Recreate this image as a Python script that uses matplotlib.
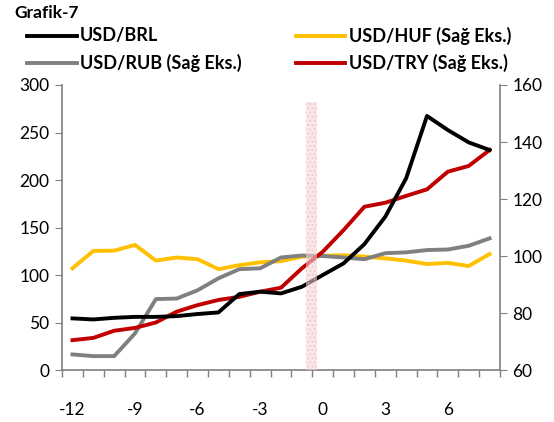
import matplotlib
matplotlib.use("Agg")
import matplotlib.pyplot as plt
from matplotlib.lines import Line2D

plt.rcParams['font.family'] = ['Lato', 'DejaVu Sans']

months = list(range(-12, 9))
brl = [54.4, 53.3, 55.0, 56.0, 56.0, 56.8, 59.0, 60.7, 80.0, 82.5, 80.7, 87.7,
       100.0, 112.3, 132.6, 161.4, 201.8, 267.4, 252.6, 239.6, 231.6]
rub = [65.5, 64.9, 64.9, 72.9, 84.9, 85.1, 88.0, 92.2, 95.4, 95.7, 99.5, 100.2,
       100.0, 99.5, 98.9, 101.0, 101.3, 102.1, 102.3, 103.6, 106.2]
huf = [95.7, 101.8, 101.9, 103.9, 98.4, 99.5, 98.9, 95.4, 96.8, 97.8, 98.2, 99.8,
       100.1, 100.3, 99.8, 99.2, 98.4, 97.2, 97.6, 96.5, 100.7]
tl = [70.5, 71.3, 73.8, 74.8, 76.7, 80.5, 82.8, 84.6, 85.7, 87.5, 88.9, 95.7,
      101.5, 109.1, 117.3, 118.7, 121.1, 123.4, 129.6, 131.6, 137.2]
xlabels = [-12, -9, -6, -3, 0, 3, 6]

names = ['USD/BRL', 'USD/HUF (Sağ Eks.)', 'USD/RUB (Sağ Eks.)', 'USD/TRY (Sağ Eks.)']
c_brl, c_huf, c_rub, c_try = '#000000', '#FFC000', '#808080', '#C00000'

fig = plt.figure(figsize=(5.54, 4.22), dpi=100)
ax = fig.add_axes([0.112, 0.123, 0.7905, 0.6756])
ax2 = ax.twinx()

lw = 2.8
ax2.plot(months, huf, color=c_huf, lw=lw, zorder=2)
ax2.plot(months, rub, color=c_rub, lw=lw, zorder=3)
ax2.plot(months, tl, color=c_try, lw=lw, zorder=4)
ax.plot(months, brl, color=c_brl, lw=lw, zorder=3)

ax.set_zorder(ax2.get_zorder() + 1)
ax.patch.set_visible(False)

# shaded band at event
ax.bar([-0.52], [282], width=0.52, bottom=0, color='#f6d6d6', alpha=0.55,
       hatch='....', edgecolor='#e8b4b4', linewidth=0, zorder=10)

ax.set_xlim(-12.5, 8.5)
ax.set_ylim(0, 300)
ax2.set_ylim(60, 160)
ax.set_yticks(range(0, 301, 50))
ax2.set_yticks(range(60, 161, 20))

ax.set_xticks([x + 0.5 for x in range(-13, 9)])
ax.set_xticklabels([])
ax.set_xticks(xlabels, minor=True)
ax.set_xticklabels([str(v) for v in xlabels], minor=True)
ax.tick_params(axis='x', which='minor', length=0, pad=23, labelsize=12.5)
ax.tick_params(axis='x', which='major', length=5, color='#808080', width=1)
ax.tick_params(axis='y', length=5, color='#808080', labelsize=12.5, pad=4)
ax2.tick_params(axis='y', length=5, color='#808080', labelsize=12.5, pad=4)

for a in (ax, ax2):
    a.spines['top'].set_visible(False)
    for s in ('left', 'right', 'bottom'):
        a.spines[s].set_color('#808080')
        a.spines[s].set_linewidth(1.2)
ax.spines['right'].set_visible(False)
ax2.spines['left'].set_visible(False)
ax2.spines['bottom'].set_visible(False)

# title
fig.text(14 / 554, 1 - 13 / 422, 'Grafik-7', fontsize=12.5, fontweight='bold',
         va='center', ha='left')

# legend (manual)
rows_y = [1 - 36 / 422, 1 - 63 / 422]
entries = [(27, 77, 80, rows_y[0], c_brl, names[0]),
           (296, 345, 349, rows_y[0], c_huf, names[1]),
           (27, 77, 80, rows_y[1], c_rub, names[2]),
           (296, 345, 349, rows_y[1], c_try, names[3])]
for x0, x1, xt, y, c, t in entries:
    fig.add_artist(Line2D([x0 / 554, x1 / 554], [y, y], color=c, lw=2.8,
                          transform=fig.transFigure))
    fig.text(xt / 554, y, t, fontsize=13, fontweight='bold', va='center', ha='left')

fig.savefig('out.png', dpi=100)
